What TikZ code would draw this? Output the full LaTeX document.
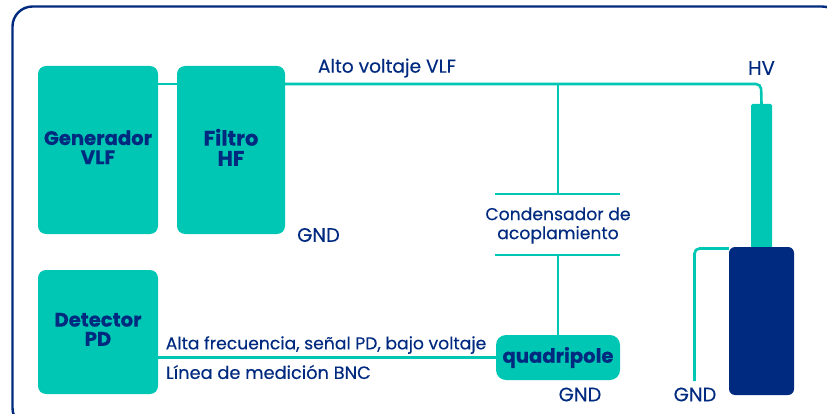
\documentclass[tikz,border=0pt]{standalone}
\usepackage{fontspec}
\setmainfont{Poppins}[BoldFeatures={FakeBold=0.6}]
\definecolor{tealc}{HTML}{00C7B4}
\definecolor{navy}{HTML}{002A7F}
\newfontfamily\medf[FakeBold=0.25]{Poppins}
\newcommand\lifted[1]{\raisebox{2.5pt}{\begin{tabular}{@{}c@{}}#1\end{tabular}}}
\tikzset{
  x=1pt,y=-1pt,
  tbox/.style={fill=tealc,rounded corners=8pt,inner sep=0pt,text=navy,align=center,
    font=\fontsize{19.6}{18}\selectfont\bfseries},
  wire/.style={draw=tealc,line width=2.6pt},
  lab/.style={text=navy,inner sep=0pt,font=\medf\fontsize{17.2}{19}\selectfont,align=center},
  big/.style={font=\medf\fontsize{19.5}{21}\selectfont}
}
\begin{document}
\begin{tikzpicture}
\useasboundingbox (0,0) rectangle (827,414);
\clip (0,0) rectangle (827,414);
\fill[white] (0,0) rectangle (827,414);
\draw[navy,line width=2.4pt,rounded corners=20pt] (12.5,6.5) rectangle (842,428);
% coordinates
\coordinate (cT) at (558,84);
\coordinate (p1) at (558,194);
\coordinate (p2) at (558,255);
\coordinate (p1L) at (495,194);
\coordinate (p1R) at (620,194);
\coordinate (p2L) at (495,255);
\coordinate (p2R) at (620,255);
\coordinate (hvc) at (761,84);
\coordinate (gnde) at (694.5,381);
\coordinate (gndc) at (694.5,248.5);
% boxes
\node[tbox,minimum width=120pt,minimum height=168pt] (gen) at (98,150) {\lifted{Generador\\VLF}};
\node[tbox,minimum width=108pt,minimum height=168pt,font=\fontsize{21}{18}\selectfont\bfseries] (fil) at (231,150) {\lifted{Filtro\\HF}};
\node[tbox,minimum width=120pt,minimum height=124pt] (det) at (98,332) {\lifted{Detector\\PD}};
\node[tbox,minimum width=124pt,minimum height=45pt,rounded corners=10pt] (qua) at (558,357.5) {quadripole};
\node[fill=tealc,rounded corners=1.5pt,minimum width=21pt,minimum height=145pt,inner sep=0pt] (cab) at (761.5,176.5) {};
\node[fill=navy,rounded corners=6pt,minimum width=65pt,minimum height=148pt,inner sep=0pt] (term) at (761.5,321) {};
% connectors
\draw[wire] (gen.east |- cT) -- (fil.west |- cT);
\draw[wire,rounded corners=5pt] (fil.east |- cT) -- (hvc) -- (cab.north);
\draw[wire] (cT) -- (p1);
\draw[wire] (p1L) -- (p1R);
\draw[wire] (p2L) -- (p2R);
\draw[wire] (p2) -- (qua.north);
\draw[wire] (det.east |- qua.west) -- (qua.west);
\draw[wire,rounded corners=5pt] (term.west |- gndc) -- (gndc) -- (gnde);
% labels
\node[lab,font=\medf\fontsize{18.6}{21}\selectfont] (l1) at (387,68) {Alto voltaje VLF};
\node[lab,big] (l2) at (761.5,68) {HV};
\node[lab,big] (l3) at (318.5,235) {GND};
\node[lab] (l4) at (558,225.5) {Condensador de\\acoplamiento};
\node[lab] (l5) at (326,345) {Alta frecuencia, señal PD, bajo voltaje};
\node[lab,font=\medf\fontsize{17.8}{21}\selectfont] (l6) at (268.5,372) {Línea de medición BNC};
\node[lab,big] (l7) at (580,394.5) {GND};
\node[lab,big] (l8) at (695,394.5) {GND};
\end{tikzpicture}
\end{document}
